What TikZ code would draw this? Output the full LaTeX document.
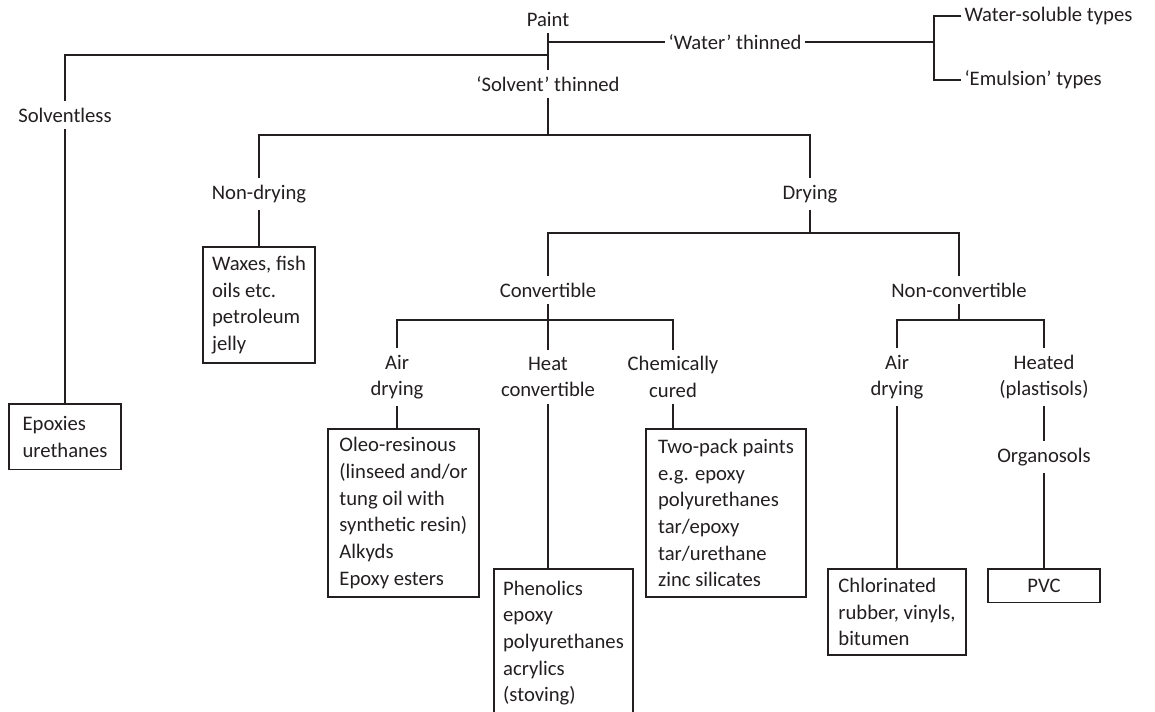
\documentclass[tikz,border=0pt]{standalone}
\usepackage{fontspec}
\setmainfont{Carlito}
\definecolor{ink}{RGB}{35,31,32}
\tikzset{every picture/.style={line width=1.25pt,color=ink}}
\tikzset{
  lbl/.style={inner xsep=2pt,inner ysep=4.5pt,align=center,font=\fontsize{15.5}{20}\selectfont},
  tbox/.style={draw,line width=1.25pt,inner sep=3pt,outer sep=0pt,align=left,anchor=north west,font=\fontsize{15.5}{20}\selectfont},
}

\begin{document}
\begin{tikzpicture}[x=0.75pt,y=0.75pt,yscale=-1,xscale=1]
\useasboundingbox (0,0) rectangle (1155,711);

% Text Node
\node (paint) [lbl] at (548,19) {Paint};
% Text Node
\node (water) [lbl] at (735,42) {‘Water’ thinned};
% Text Node
\node (watsol) [lbl,anchor=west] at (961,16) {Water-soluble types};
% Text Node
\node (emul) [lbl,anchor=west] at (961,80) {‘Emulsion’ types};
% Text Node
\node (solvent) [lbl] at (548,84) {‘Solvent’ thinned};
% Text Node
\node (solvless) [lbl] at (65,115) {Solventless};
% Text Node
\node (nondry) [lbl] at (259,194) {Non-drying};
% Text Node
\node (drying) [lbl] at (810,194) {Drying};
% Text Node
\node (conv) [lbl] at (548,290) {Convertible};
% Text Node
\node (nonconv) [lbl] at (959,290) {Non-convertible};
% Text Node
\node (airdry) [lbl] at (397,377) {Air\\drying};
% Text Node
\node (heatconv) [lbl] at (548,377) {Heat\\convertible};
% Text Node
\node (chem) [lbl] at (673,377) {Chemically\\cured};
% Text Node
\node (airdrync) [lbl] at (897,377) {Air\\drying};
% Text Node
\node (heated) [lbl] at (1044,377) {Heated\\(plastisols)};
% Text Node
\node (organo) [lbl] at (1044,457) {Organosols};

%Shape: Rectangle
\node (epox) [tbox,minimum width=84pt,minimum height=49pt] at (9,404) {Epoxies\\urethanes};
%Shape: Rectangle
\node (waxes) [tbox,minimum width=84pt,minimum height=87pt] at (203,247) {Waxes, fish\\oils etc.\\petroleum\\jelly};
%Shape: Rectangle
\node (oleo) [tbox,minimum width=113.25pt,minimum height=126pt] at (328,429) {Oleo-resinous\\(linseed and/or\\tung oil with\\synthetic resin)\\Alkyds\\Epoxy esters};
%Shape: Rectangle
\node (phen) [tbox,minimum width=104.25pt,minimum height=111pt] at (494,569) {Phenolics\\epoxy\\polyurethanes\\acrylics\\(stoving)};
%Shape: Rectangle
\node (twopack) [tbox,minimum width=120pt,minimum height=126pt] at (646,429) {Two-pack paints\\e.g. epoxy\\polyurethanes\\tar/epoxy\\tar/urethane\\zinc silicates};
%Shape: Rectangle
\node (chlor) [tbox,minimum width=103.5pt,minimum height=64.5pt] at (828,569) {Chlorinated\\rubber, vinyls,\\bitumen};
%Shape: Rectangle
\node (pvc) [tbox,align=center,minimum width=84pt,minimum height=25pt] at (988,569) {PVC};

% junctions
\coordinate (pw) at (548,42);
\coordinate (wb) at (934,42);
\coordinate (pl) at (548,55);
\coordinate (sj) at (548,135);
\coordinate (dj) at (810,233);
\coordinate (cj) at (548,320);
\coordinate (nj) at (959,320);

%Straight Lines
\draw (paint) -- (solvent);
\draw (pw) -- (water) -- (wb);
\draw (watsol.west) -| (wb) |- (emul.west);
\draw (pl) -| (solvless);
\draw (solvless) -- (solvless |- epox.north);
%Straight Lines
\draw (solvent) -- (sj);
\draw (nondry) |- (sj) -| (drying);
\draw (nondry) -- (nondry |- waxes.north);
%Straight Lines
\draw (drying) -- (dj);
\draw (conv) |- (dj) -| (nonconv);
\draw (conv) -- (heatconv);
\draw (airdry) |- (cj) -| (chem);
\draw (airdry) -- (airdry |- oleo.north);
\draw (heatconv) -- (heatconv |- phen.north);
\draw (chem) -- (chem |- twopack.north);
%Straight Lines
\draw (nonconv) -- (nj);
\draw (airdrync) |- (nj) -| (heated);
\draw (airdrync) -- (airdrync |- chlor.north);
\draw (heated) -- (organo) -- (organo |- pvc.north);

\end{tikzpicture}
\end{document}
